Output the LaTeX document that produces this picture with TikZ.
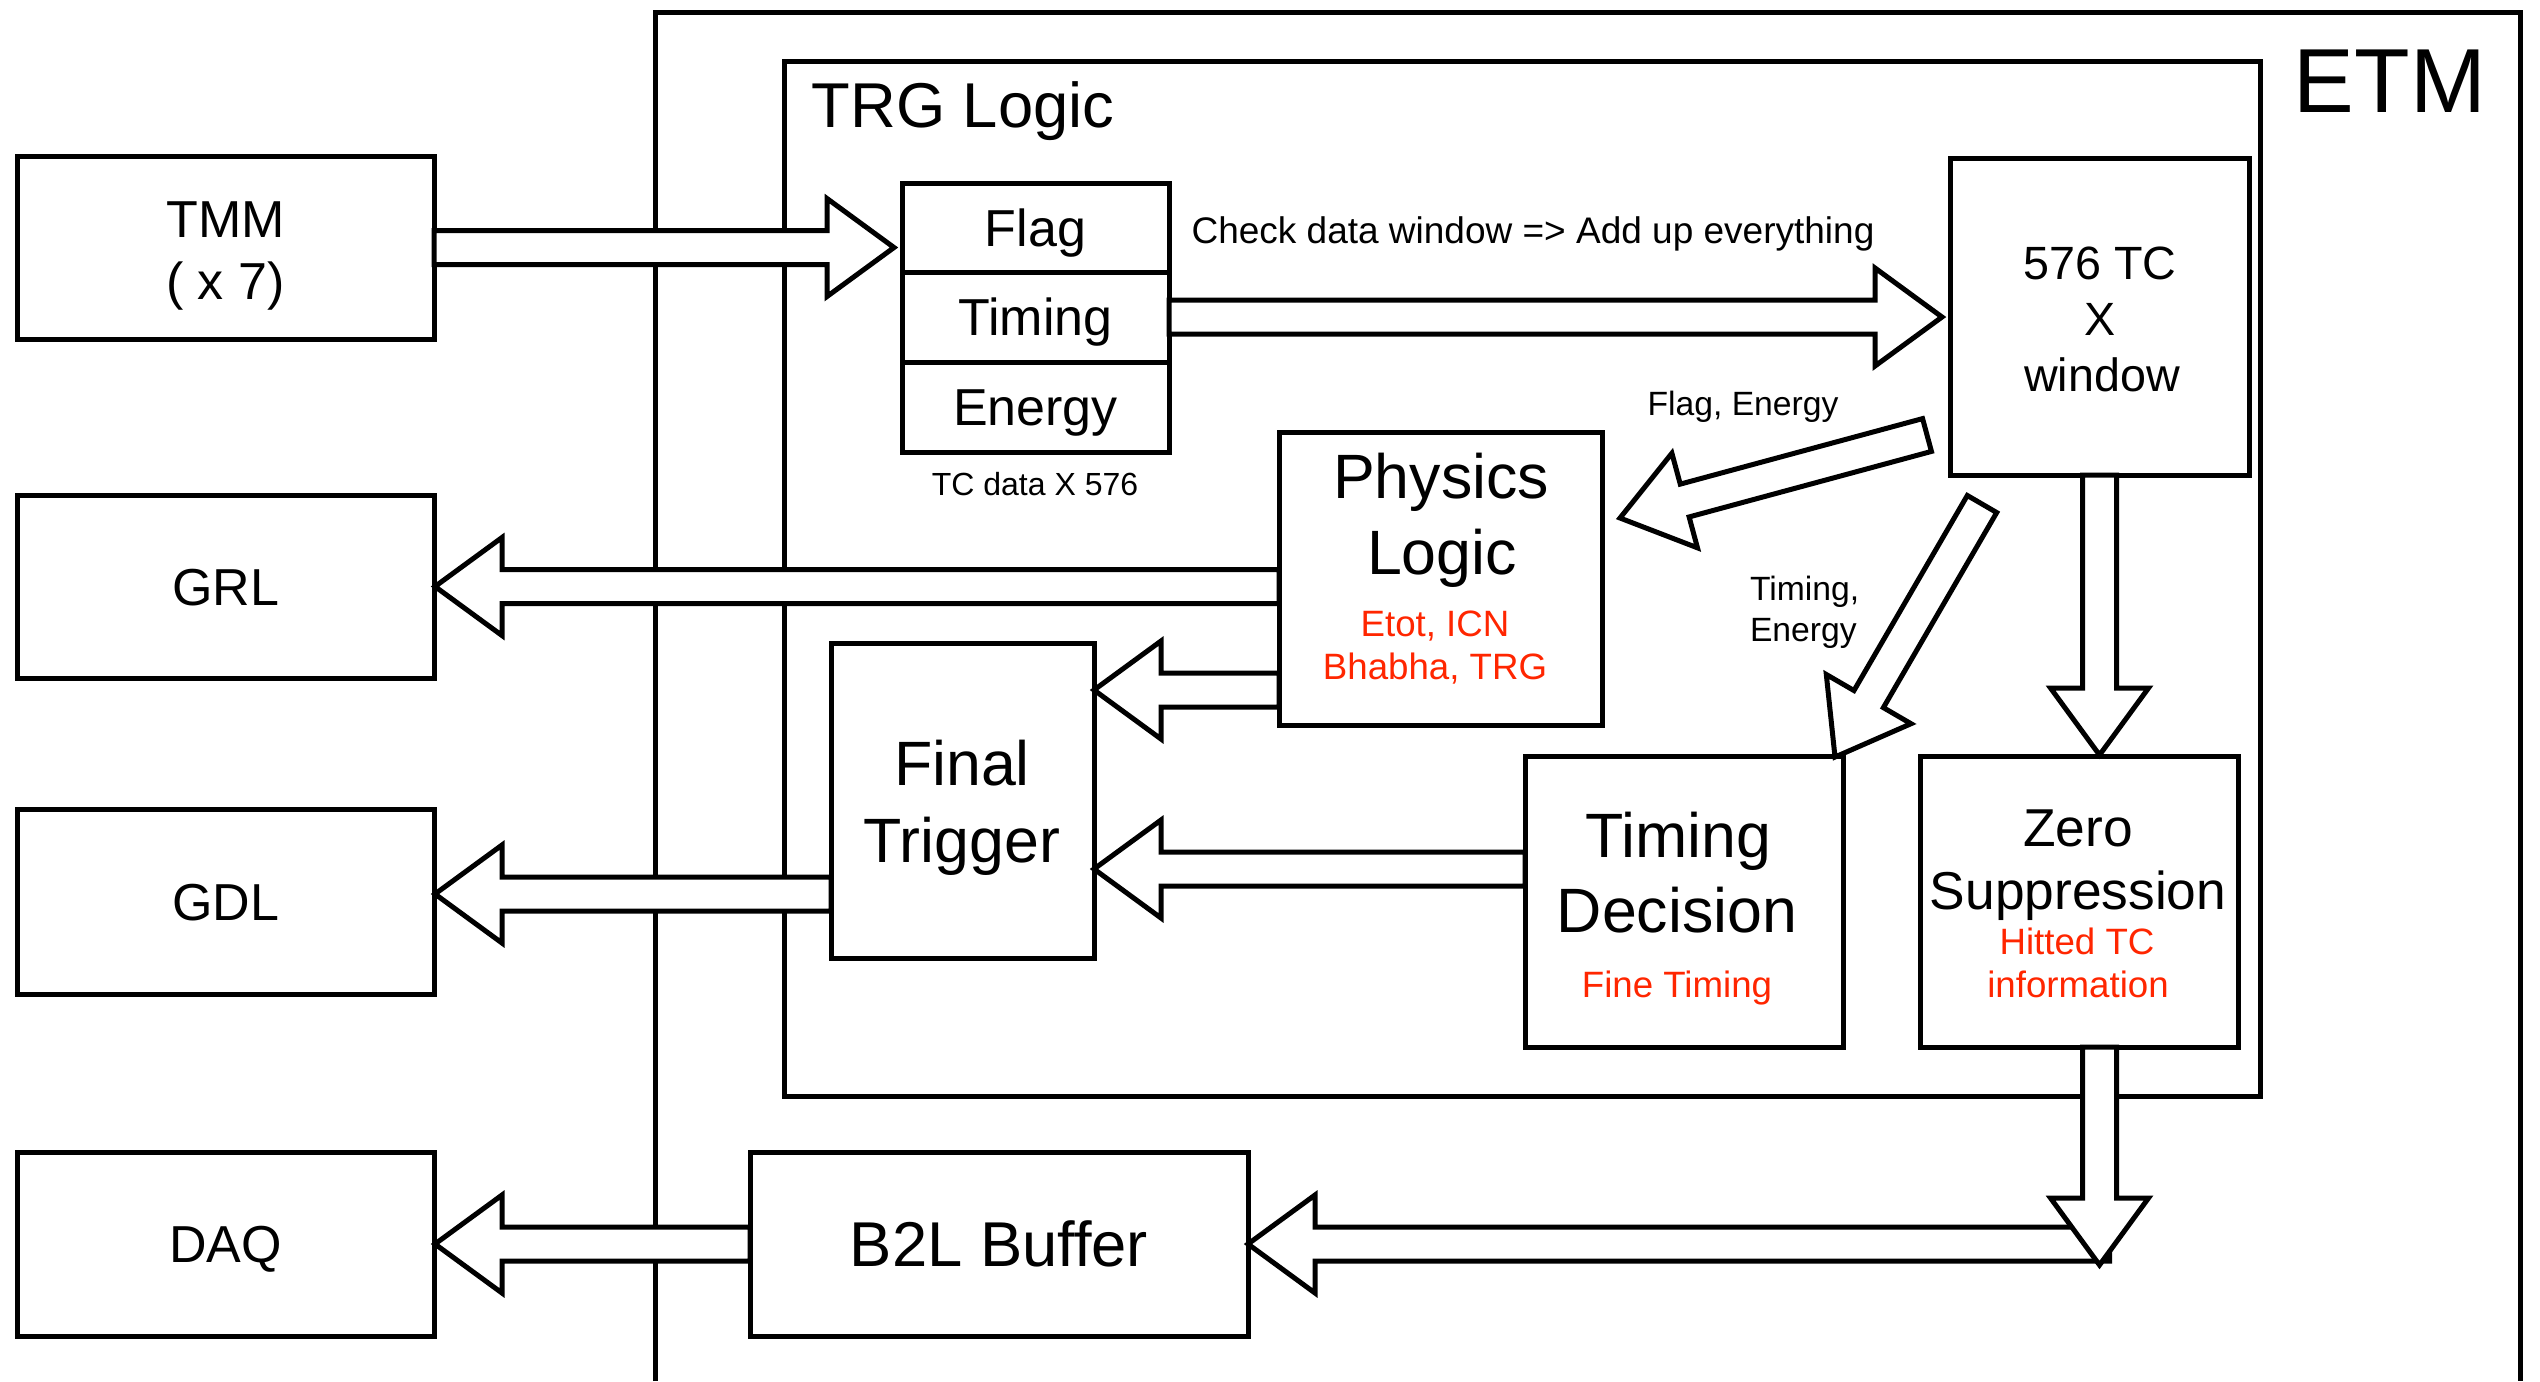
\documentclass[tikz,border=0pt]{standalone}
\usepackage{fontspec}
\setmainfont{Liberation Sans}
\usetikzlibrary{calc,fit}
\definecolor{hlred}{HTML}{FF2600}
\newcommand\blockarrow[2]{%
  \path ($(#2)!20.1pt!(#1)$) coordinate (bh);
  \draw[blockarr] ($(#1)!5.1pt!90:(#2)$) -- ($(bh)!5.1pt!90:(#2)$) -- ($(bh)!14.7pt!90:(#2)$) -- (#2) -- ($(bh)!14.7pt!-90:(#2)$) -- ($(bh)!5.1pt!-90:(#2)$) -- ($(#1)!5.1pt!-90:(#2)$) -- cycle;}
\tikzset{
  box/.style={draw, line width=1.5pt, inner sep=0pt, outer sep=0pt, fill=white},
  frame/.style={draw, line width=1.5pt},
  blockarr/.style={draw, line width=1.5pt, fill=white, line join=miter},
  lbl/.style={inner sep=0pt, outer sep=0pt, font=\fontsize{15.6}{18}\selectfont, text height=11.2pt, text depth=0pt},
  lblbig/.style={inner sep=0pt, outer sep=0pt, font=\fontsize{19}{22}\selectfont, text height=13.6pt, text depth=0pt},
  txt/.style={anchor=base, inner sep=0pt, outer sep=0pt},
  t15/.style={txt, font=\fontsize{15.6}{18}\selectfont},
  t14/.style={txt, font=\fontsize{14}{17}\selectfont},
  t19/.style={txt, font=\fontsize{18.8}{22}\selectfont},
  t16/.style={txt, font=\fontsize{16}{19}\selectfont},
  tred/.style={txt, font=\fontsize{11}{13}\selectfont, text=hlred},
  tsmall/.style={txt, font=\fontsize{10.1}{12}\selectfont},
}
\begin{document}
\begin{tikzpicture}[x=0.3pt,y=-0.3pt]
\useasboundingbox (0,0) rectangle (2540,1381);
% ETM frame
\draw[frame] (655,1381) -- (655,12) -- (2520,12) -- (2520,1381);
\node[txt, font=\fontsize{27.3}{30}\selectfont] (etm) at (2390,112) {ETM};
% TRG Logic frame
\node[box, fit={(784,61)(2260,1096)}] (trg) {};
\node[txt, font=\fontsize{19}{22}\selectfont] (trgt) at (963,127) {TRG Logic};
% external boxes
\node[box, fit={(17,156)(434,339)}] (tmm) {};
\node[t15] (tmm1) at (225.5,237) {TMM};
\node[t15] (tmm2) at (225.5,299) {( x 7)};
\node[box, fit={(17,495)(434,678)}] (grl) {};
\node[lbl] (grlt) at (grl.center) {GRL};
\node[box, fit={(17,809)(434,994)}] (gdl) {};
\node[lbl] (gdlt) at (gdl.center) {GDL};
\node[box, fit={(17,1152)(434,1336)}] (daq) {};
\node[lbl] (daqt) at (daq.center) {DAQ};
% TC data stack
\node[box, fit={(902,183)(1169,272)}] (flag) {};
\node[lbl] (flagt) at (flag.center) {Flag};
\node[box, fit={(902,272)(1169,362)}] (tim) {};
\node[lbl] (timt) at (tim.center) {Timing};
\node[box, fit={(902,362)(1169,452)}] (ene) {};
\node[lbl] (enet) at (ene.center) {Energy};
\node[txt, font=\fontsize{9.6}{11}\selectfont] (tcdata) at (1035,495) {TC data X 576};
\node[txt, font=\fontsize{11.1}{13}\selectfont] (check) at (1533,243) {Check data window => Add up everything};
% 576 TC window
\node[box, fit={(1950,158)(2249,475)}] (win) {};
\node[t14] (win1) at (2100,279) {576 TC};
\node[t14] (win2) at (2100,335) {X};
\node[t14] (win3) at (2102,391) {window};
% Physics Logic
\node[box, fit={(1279,432)(1602,725)}] (phys) {};
\node[t19] (phys1) at (1441,498) {Physics};
\node[t19] (phys2) at (1442,574) {Logic};
\node[tred] (phys3) at (1435,636) {Etot, ICN};
\node[tred] (phys4) at (1435,679) {Bhabha, TRG};
% Final Trigger
\node[box, fit={(831,643)(1094,958)}] (fin) {};
\node[t19] (fin1) at (962,785) {Final};
\node[t19] (fin2) at (962,862) {Trigger};
% Timing Decision
\node[box, fit={(1525,756)(1843,1047)}] (td) {};
\node[t19] (td1) at (1678,857) {Timing};
\node[t19] (td2) at (1677,932) {Decision};
\node[tred] (td3) at (1677,997) {Fine Timing};
% Zero Suppression
\node[box, fit={(1920,756)(2238,1047)}] (zs) {};
\node[t16] (zs1) at (2078,846) {Zero};
\node[t16] (zs2) at (2078,909) {Suppression};
\node[tred] (zs3) at (2077,954) {Hitted TC};
\node[tred] (zs4) at (2078,997) {information};
% B2L Buffer
\node[box, fit={(750,1152)(1248,1336)}] (b2l) {};
\node[lblbig] (b2lt) at (b2l.center) {B2L Buffer};
% arrow labels
\node[tsmall] (lfe) at (1743,415) {Flag, Energy};
\node[tsmall, anchor=base west] (lte1) at (1750,600) {Timing,};
\node[tsmall, anchor=base west] (lte2) at (1750,641) {Energy};
% arrow end points
\coordinate (a1s) at (tmm.east);
\coordinate (a1e) at ($(flag.west |- tmm.east)+(-8,0)$);
\coordinate (a2s) at (tim.east);
\coordinate (a2e) at ($(win.west |- tim.east)+(-8,0)$);
\coordinate (a3s) at ($(win.south west)+(-23,-40)$);
\coordinate (a3e) at ($(phys.north east)+(18,86)$);
\coordinate (a4s) at ($(win.south west)+(32,29)$);
\coordinate (a4e) at ($(td.north east)+(-8,1)$);
\coordinate (a5s) at (win.south);
\coordinate (a5e) at ($(win.south |- zs.north)+(0,-1)$);
\coordinate (a6s) at (phys.west |- grl.east);
\coordinate (a6e) at ($(grl.east)+(1,0)$);
\coordinate (a7s) at ($(phys.south west)+(0,-35)$);
\coordinate (a7e) at (fin.east |- a7s);
\coordinate (a8s) at ($(td.west)+(0,-32.5)$);
\coordinate (a8e) at (fin.east |- a8s);
\coordinate (a9s) at ($(fin.west)+(0,93.5)$);
\coordinate (a9e) at ($(gdl.east |- a9s)+(1,0)$);
\coordinate (a10s) at (win.south |- zs.south);
\coordinate (a10e) at ($(a10s)+(0,218)$);
\coordinate (a11s) at ($(b2l.east -| a10s)+(10,0)$);
\coordinate (a11e) at (b2l.east);
\coordinate (a12s) at (b2l.west);
\coordinate (a12e) at ($(daq.east)+(1,0)$);
% block arrows
\blockarrow{a1s}{a1e}
\blockarrow{a2s}{a2e}
\blockarrow{a3s}{a3e}
\blockarrow{a4s}{a4e}
\blockarrow{a5s}{a5e}
\blockarrow{a6s}{a6e}
\blockarrow{a7s}{a7e}
\blockarrow{a8s}{a8e}
\blockarrow{a9s}{a9e}
\blockarrow{a11s}{a11e}
\blockarrow{a10s}{a10e}
\blockarrow{a12s}{a12e}
\end{tikzpicture}
\end{document}
